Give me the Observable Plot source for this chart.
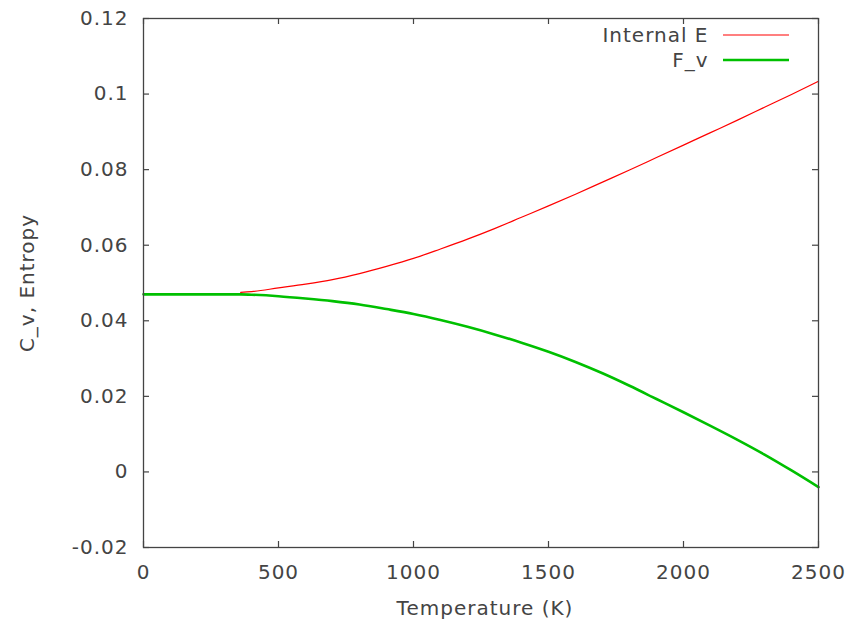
<!DOCTYPE html>
<html>
<head>
<meta charset="utf-8">
<script src="https://cdn.jsdelivr.net/npm/d3@7"></script>
<script src="https://cdn.jsdelivr.net/npm/@observablehq/plot@0.6"></script>
<style>
  html, body { margin: 0; padding: 0; background: #fff; }
  #chart text { letter-spacing: 1px; }
</style>
</head>
<body>
<div id="chart"></div>
<script>
// Temperature grid (K)
const temperature = [0, 100, 200, 300, 360, 400, 500, 600, 700, 800, 900, 1000, 1100, 1200,
  1300, 1400, 1500, 1600, 1700, 1800, 1900, 2000, 2100, 2200, 2300, 2400, 2500];

// Internal energy (tabulated from 360 K upward)
const tempE = temperature.slice(4);
const internalE = [0.0475, 0.0477, 0.0487, 0.0497, 0.0509, 0.0525,
  0.0544, 0.0565, 0.0590, 0.0616, 0.0644, 0.0674, 0.0704, 0.0735, 0.0767, 0.0799, 0.0832,
  0.0865, 0.0898, 0.0931, 0.0965, 0.0999, 0.1034];

// Vibrational free energy
const freeV = [0.0470, 0.0470, 0.0470, 0.0470, 0.0470, 0.0469, 0.0465, 0.0459, 0.0452, 0.0443,
  0.0431, 0.0418, 0.0402, 0.0384, 0.0364, 0.0342, 0.0318, 0.0291, 0.0261, 0.0228, 0.0193,
  0.0158, 0.0122, 0.0085, 0.0046, 0.0004, -0.0040];

const seriesNames = ["Internal E", "F_v"];
const seriesColors = ["#ff0000", "#00c000"];
const seriesWidths = [1.2, 2.6];

const xTicks = [0, 500, 1000, 1500, 2000, 2500];
const yTicks = [-0.02, 0, 0.02, 0.04, 0.06, 0.08, 0.1, 0.12];
const xLabel = "Temperature (K)";
const yLabel = "C_v, Entropy";

const W = 847, H = 626;
const mL = 143, mR = 29, mT = 18, mB = 79;
const innerW = W - mL - mR, innerH = H - mT - mB;
const tickLen = 6;
const ink = "#444";
const legendRows = [17, 42];   // offsets below the top of the frame

const rowsE = tempE.map((t, i) => ({T: t, v: internalE[i]}));
const rowsF = temperature.map((t, i) => ({T: t, v: freeV[i]}));

const chart = Plot.plot({
  width: W,
  height: H,
  marginLeft: mL,
  marginRight: mR,
  marginTop: mT,
  marginBottom: mB,
  x: {domain: [0, 2500]},
  y: {domain: [-0.02, 0.12]},
  style: {fontFamily: "DejaVu Sans", fontSize: "20px", color: ink, background: "#fff"},
  marks: [
    // inward ticks on all four sides
    Plot.tickX(xTicks, {x: d => d, stroke: ink, strokeWidth: 1.2, insetTop: innerH - tickLen}),
    Plot.tickX(xTicks, {x: d => d, stroke: ink, strokeWidth: 1.2, insetBottom: innerH - tickLen}),
    Plot.tickY(yTicks, {y: d => d, stroke: ink, strokeWidth: 1.2, insetRight: innerW - tickLen}),
    Plot.tickY(yTicks, {y: d => d, stroke: ink, strokeWidth: 1.2, insetLeft: innerW - tickLen}),
    Plot.axisX({ticks: xTicks, tickSize: 0, tickPadding: 17, tickFormat: d => String(d), label: null, fill: ink}),
    Plot.axisY({ticks: yTicks, tickSize: 0, tickPadding: 15, tickFormat: d => String(+d.toFixed(2)), label: null, fill: ink}),
    Plot.line(rowsE, {x: "T", y: "v", stroke: seriesColors[0], strokeWidth: seriesWidths[0], curve: "monotone-x"}),
    Plot.line(rowsF, {x: "T", y: "v", stroke: seriesColors[1], strokeWidth: seriesWidths[1], curve: "monotone-x"}),
    Plot.frame({stroke: ink, strokeWidth: 1.3}),
    // axis titles
    Plot.text([xLabel], {text: d => d, frameAnchor: "bottom", lineAnchor: "middle", textAnchor: "middle",
      dx: 4, dy: 61, fill: ink, fontSize: 20}),
    Plot.text([yLabel], {text: d => d, frameAnchor: "left", textAnchor: "middle", lineAnchor: "middle",
      dx: -116, rotate: -90, fill: ink, fontSize: 20}),
    // legend labels, one row each
    ...seriesNames.map((name, i) =>
      Plot.text([name], {text: d => d, frameAnchor: "top-right", textAnchor: "end", lineAnchor: "middle",
        dx: -110, dy: legendRows[i], fill: ink, fontSize: 20}))
  ]
});

document.getElementById("chart").appendChild(chart);

// Legend line samples beside the labels
const legend = d3.select(chart).append("g");
seriesNames.forEach((name, i) => {
  legend.append("line")
    .attr("x1", mL + innerW - 95).attr("x2", mL + innerW - 29)
    .attr("y1", mT + legendRows[i]).attr("y2", mT + legendRows[i])
    .attr("stroke", seriesColors[i]).attr("stroke-width", seriesWidths[i]);
});
</script>
</body>
</html>
